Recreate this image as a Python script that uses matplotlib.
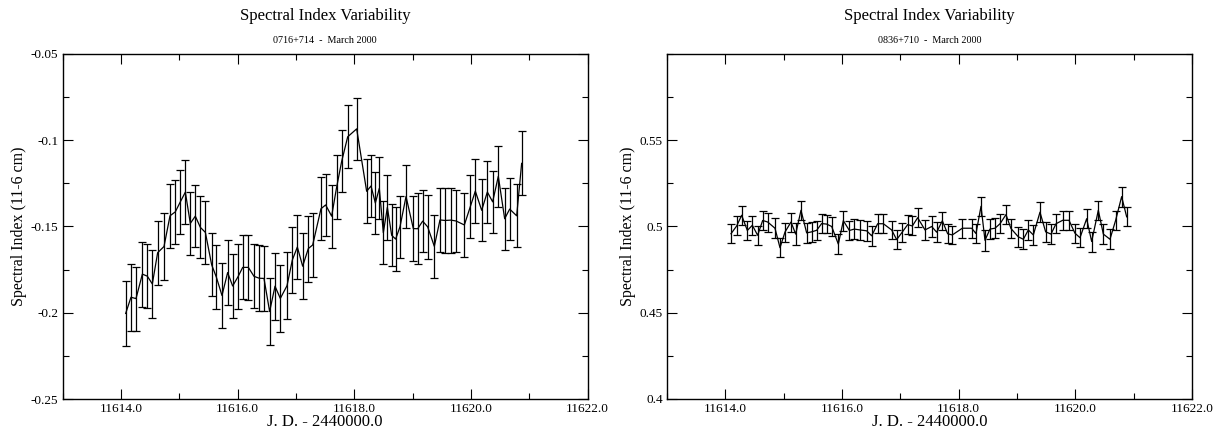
import matplotlib
matplotlib.use("Agg")
import matplotlib.pyplot as plt
from matplotlib.ticker import FixedLocator, MultipleLocator

plt.rcParams['font.family'] = ['Liberation Serif', 'DejaVu Serif']

# ---------------- data ----------------
t_0716 = [11614.083, 11614.174, 11614.260, 11614.369, 11614.454, 11614.540, 11614.631, 11614.740, 11614.843, 11614.934,
          11615.020, 11615.106, 11615.191, 11615.277, 11615.363, 11615.449, 11615.557, 11615.637, 11615.734, 11615.831,
          11615.917, 11616.009, 11616.089, 11616.186, 11616.283, 11616.374, 11616.454, 11616.551, 11616.643, 11616.734,
          11616.849, 11616.940, 11617.026, 11617.117, 11617.214, 11617.289, 11617.431, 11617.511, 11617.614, 11617.700,
          11617.786, 11617.889, 11618.043, 11618.214, 11618.289, 11618.363, 11618.431, 11618.500, 11618.569, 11618.643,
          11618.711, 11618.786, 11618.889, 11619.014, 11619.089, 11619.174, 11619.260, 11619.374, 11619.471, 11619.557,
          11619.660, 11619.746, 11619.889, 11619.991, 11620.077, 11620.186, 11620.283, 11620.374, 11620.471, 11620.580,
          11620.666, 11620.786, 11620.871]
v_0716 = [-0.2004, -0.1910, -0.1918, -0.1776, -0.1788, -0.1833, -0.1652, -0.1616, -0.1438, -0.1415,
          -0.1357, -0.1301, -0.1482, -0.1440, -0.1505, -0.1534, -0.1722, -0.1793, -0.1900, -0.1767,
          -0.1845, -0.1791, -0.1737, -0.1737, -0.1789, -0.1800, -0.1801, -0.1993, -0.1846, -0.1917,
          -0.1843, -0.1694, -0.1619, -0.1730, -0.1628, -0.1607, -0.1397, -0.1375, -0.1440, -0.1271,
          -0.1122, -0.0980, -0.0934, -0.1296, -0.1265, -0.1364, -0.1279, -0.1536, -0.1389, -0.1551,
          -0.1573, -0.1501, -0.1326, -0.1512, -0.1513, -0.1469, -0.1502, -0.1615, -0.1462, -0.1465,
          -0.1463, -0.1468, -0.1491, -0.1385, -0.1295, -0.1406, -0.1300, -0.1357, -0.1209, -0.1455,
          -0.1399, -0.1438, -0.1134]
e_0716 = [0.0189, 0.0195, 0.0185, 0.0188, 0.0185, 0.0195, 0.0186, 0.0195, 0.0186, 0.0187,
          0.0186, 0.0185, 0.0183, 0.0181, 0.0179, 0.0183, 0.0183, 0.0186, 0.0187, 0.0187,
          0.0184, 0.0188, 0.0186, 0.0188, 0.0186, 0.0191, 0.0190, 0.0195, 0.0195, 0.0192,
          0.0194, 0.0191, 0.0184, 0.0191, 0.0191, 0.0187, 0.0183, 0.0180, 0.0183, 0.0183,
          0.0180, 0.0183, 0.0180, 0.0185, 0.0180, 0.0180, 0.0180, 0.0183, 0.0188, 0.0180,
          0.0184, 0.0180, 0.0184, 0.0189, 0.0206, 0.0180, 0.0185, 0.0184, 0.0187, 0.0190,
          0.0188, 0.0180, 0.0187, 0.0183, 0.0186, 0.0180, 0.0180, 0.0180, 0.0176, 0.0180,
          0.0179, 0.0183, 0.0186]

t_0836 = [11614.097, 11614.194, 11614.280, 11614.377, 11614.463, 11614.554, 11614.640, 11614.726, 11614.851, 11614.937,
          11615.023, 11615.126, 11615.206, 11615.297, 11615.394, 11615.480, 11615.566, 11615.651, 11615.737, 11615.823,
          11615.937, 11616.023, 11616.126, 11616.211, 11616.309, 11616.423, 11616.509, 11616.611, 11616.709, 11616.851,
          11616.937, 11617.034, 11617.126, 11617.206, 11617.297, 11617.423, 11617.537, 11617.623, 11617.720, 11617.811,
          11617.891, 11618.063, 11618.223, 11618.297, 11618.383, 11618.451, 11618.537, 11618.623, 11618.709, 11618.811,
          11618.897, 11619.023, 11619.109, 11619.194, 11619.280, 11619.394, 11619.491, 11619.583, 11619.669, 11619.783,
          11619.891, 11619.994, 11620.080, 11620.194, 11620.280, 11620.394, 11620.480, 11620.594, 11620.691, 11620.794,
          11620.880]
v_0836 = [0.4958, 0.5003, 0.5065, 0.4977, 0.5007, 0.4949, 0.5035, 0.5026, 0.4990, 0.4877,
          0.4968, 0.5026, 0.4956, 0.5094, 0.4963, 0.4969, 0.4978, 0.5017, 0.5014, 0.5000,
          0.4898, 0.5034, 0.4977, 0.4985, 0.4980, 0.4975, 0.4946, 0.5016, 0.5016, 0.4980,
          0.4924, 0.4968, 0.5011, 0.5003, 0.5051, 0.4980, 0.5000, 0.4967, 0.5033, 0.4958,
          0.4951, 0.4990, 0.4990, 0.4959, 0.5117, 0.4920, 0.4985, 0.4990, 0.5016, 0.5069,
          0.4988, 0.4940, 0.4926, 0.4980, 0.4951, 0.5083, 0.4969, 0.4956, 0.5016, 0.5036,
          0.5036, 0.4961, 0.4935, 0.5045, 0.4913, 0.5094, 0.4956, 0.4926, 0.5036, 0.5173,
          0.5056]
e_0836 = [0.0055, 0.0055, 0.0056, 0.0055, 0.0056, 0.0056, 0.0055, 0.0055, 0.0058, 0.0055,
          0.0055, 0.0055, 0.0063, 0.0056, 0.0056, 0.0056, 0.0056, 0.0056, 0.0053, 0.0054,
          0.0057, 0.0058, 0.0055, 0.0057, 0.0058, 0.0057, 0.0058, 0.0055, 0.0055, 0.0054,
          0.0056, 0.0055, 0.0056, 0.0055, 0.0055, 0.0058, 0.0058, 0.0058, 0.0053, 0.0055,
          0.0054, 0.0054, 0.0054, 0.0056, 0.0056, 0.0060, 0.0059, 0.0058, 0.0055, 0.0056,
          0.0056, 0.0056, 0.0058, 0.0058, 0.0058, 0.0058, 0.0056, 0.0057, 0.0055, 0.0056,
          0.0056, 0.0054, 0.0055, 0.0055, 0.0058, 0.0056, 0.0057, 0.0058, 0.0056, 0.0058,
          0.0056]

x_ticks = [11614.0, 11616.0, 11618.0, 11620.0, 11622.0]
x_ticklabels = ["11614.0", "11616.0", "11618.0", "11620.0", "11622.0"]
y_ticks_left = [-0.25, -0.2, -0.15, -0.1, -0.05]
y_ticklabels_left = ["-0.25", "-0.2", "-0.15", "-0.1", "-0.05"]
y_ticks_right = [0.4, 0.45, 0.5, 0.55]
y_ticklabels_right = ["0.4", "0.45", "0.5", "0.55"]

title = "Spectral Index Variability"
subtitles = ["0716+714  -  March 2000", "0836+710  -  March 2000"]
xlabel = "J. D. - 2440000.0"
ylabel = "Spectral Index (11-6 cm)"

# ---------------- figure ----------------
W, H = 1225, 434
fig = plt.figure(figsize=(W / 100, H / 100), dpi=100)

def px_axes(x0, x1, top, bottom):
    return [x0 / W, (H - bottom) / H, (x1 - x0) / W, (bottom - top) / H]

axL = fig.add_axes(px_axes(62.5, 587.5, 54, 399))
axR = fig.add_axes(px_axes(667, 1192, 54, 399))

panels = [
    (axL, t_0716, v_0716, e_0716, (-0.25, -0.05), y_ticks_left, y_ticklabels_left, subtitles[0]),
    (axR, t_0836, v_0836, e_0836, (0.4, 0.6), y_ticks_right, y_ticklabels_right, subtitles[1]),
]

for ax, t, v, e, ylim, yt, ytl, sub in panels:
    ax.errorbar(t, v, yerr=e, color='black', linewidth=0.9, elinewidth=0.9,
                capsize=3.0, capthick=0.9)
    ax.set_xlim(11613.0, 11622.0)
    ax.set_ylim(*ylim)
    ax.xaxis.set_major_locator(FixedLocator(x_ticks))
    ax.set_xticklabels(x_ticklabels)
    ax.xaxis.set_minor_locator(MultipleLocator(1.0))
    ax.yaxis.set_major_locator(FixedLocator(yt))
    ax.set_yticklabels(ytl)
    ax.yaxis.set_minor_locator(MultipleLocator(0.025))
    ax.tick_params(which='both', direction='in', top=True, right=True,
                   labelsize=9.5, width=0.8, pad=3)
    ax.tick_params(which='major', length=7)
    ax.tick_params(which='minor', length=4)
    for s in ax.spines.values():
        s.set_linewidth(1.0)
    ax.set_xlabel(xlabel, fontsize=12, labelpad=-1)
    ax.set_ylabel(ylabel, fontsize=11.5, labelpad=3)
    ax.text(0.5, 1.0 + 13 / 345, sub, transform=ax.transAxes, ha='center', va='center', fontsize=7.3)
    ax.text(0.5, 1.0 + 38 / 345, title, transform=ax.transAxes, ha='center', va='center', fontsize=12)

fig.savefig("out.png", dpi=100)
